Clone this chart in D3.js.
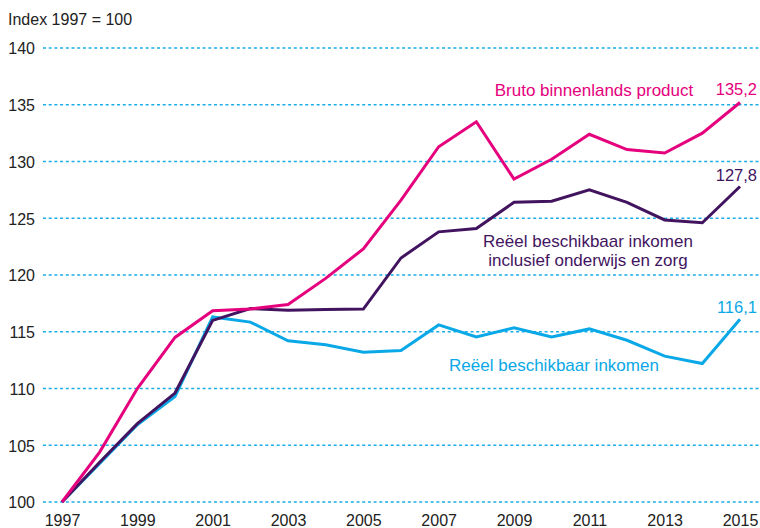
<!DOCTYPE html>
<html><head><meta charset="utf-8">
<script src="https://cdn.jsdelivr.net/npm/d3@7"></script>
<style>
html,body{margin:0;padding:0;background:#fff;}
svg{display:block;font-family:"Liberation Sans",Arial,sans-serif;}
</style></head>
<body><svg id="c" width="760" height="528"></svg>
<script>
const years = [1997,1998,1999,2000,2001,2002,2003,2004,2005,2006,2007,2008,2009,2010,2011,2012,2013,2014,2015];
const bbp   = [100,104.4,110.0,114.5,116.85,117.0,117.4,119.7,122.3,126.6,131.3,133.5,128.45,130.2,132.4,131.05,130.75,132.5,135.2];
const rbiZorg = [100,103.5,106.9,109.6,116.0,117.05,116.9,116.95,117.0,121.5,123.8,124.1,126.4,126.5,127.5,126.4,124.85,124.6,127.8];
const rbi   = [100,103.4,106.8,109.3,116.3,115.85,114.2,113.85,113.2,113.35,115.6,114.55,115.35,114.55,115.25,114.25,112.85,112.2,116.1];
const yTicks = [100,105,110,115,120,125,130,135,140];
const xTicks = [1997,1999,2001,2003,2005,2007,2009,2011,2013,2015];
const seriesNames = ["Bruto binnenlands product","Reëel beschikbaar inkomen|inclusief onderwijs en zorg","Reëel beschikbaar inkomen"];
const endLabels = ["135,2","127,8","116,1"];
const yTitle = "Index 1997 = 100";

const colors = ["#e5007d","#42145f","#0aa8e6"];
const svg = d3.select("#c");
const x = d3.scaleLinear().domain([1997,2015]).range([62,740]);
const y = d3.scaleLinear().domain([100,140]).range([502,48]);

// grid
svg.append("g").selectAll("line").data(yTicks).join("line")
  .attr("x1",43).attr("x2",760)
  .attr("y1",d=>y(d)).attr("y2",d=>y(d))
  .attr("stroke","#1aaee8").attr("stroke-width",1.5)
  .attr("stroke-dasharray","3,2.7");

// y axis labels
const yAxis = d3.axisLeft(y).tickValues(yTicks).tickSize(0).tickPadding(0).tickFormat(d3.format("d"));
const ga = svg.append("g").attr("transform","translate(35,0)").call(yAxis);
ga.select(".domain").remove();
ga.selectAll("text").attr("font-size",16).attr("fill","#222").attr("font-family","Liberation Sans, Arial, sans-serif").attr("dy","0.36em");

// x axis labels
const xAxis = d3.axisBottom(x).tickValues(xTicks).tickSize(0).tickPadding(0).tickFormat(d3.format("d"));
const gx = svg.append("g").attr("transform","translate(0,514)").call(xAxis);
gx.select(".domain").remove();
gx.selectAll("text").attr("font-size",16).attr("fill","#222").attr("font-family","Liberation Sans, Arial, sans-serif").attr("dy","0.72em");

svg.append("text").attr("x",8).attr("y",25).attr("font-size",16).attr("fill","#222").text(yTitle);

// lines
const line = d3.line().x((d,i)=>x(years[i])).y(d=>y(d));
[rbi, rbiZorg, bbp].forEach((s,k)=>{
  const ci = [2,1,0][k];
  svg.append("path").datum(s).attr("d",line).attr("fill","none")
    .attr("stroke",colors[ci]).attr("stroke-width",3).attr("stroke-linejoin","miter");
});

// end labels
const endY = [95,181,313];
endLabels.forEach((t,i)=>{
  svg.append("text").attr("x",757).attr("y",endY[i]).attr("text-anchor","end")
    .attr("font-size",16.5).attr("fill",colors[i]).text(t);
});

// series labels
const labPos = [[594,96],[588,247],[554,371]];
seriesNames.forEach((n,i)=>{
  const parts = n.split("|");
  const t = svg.append("text").attr("text-anchor","middle").attr("font-size",17).attr("fill",colors[i]);
  parts.forEach((p,j)=>{
    t.append("tspan").attr("x",labPos[i][0]).attr("y",labPos[i][1]+j*19).text(p);
  });
});
</script>
</body></html>
